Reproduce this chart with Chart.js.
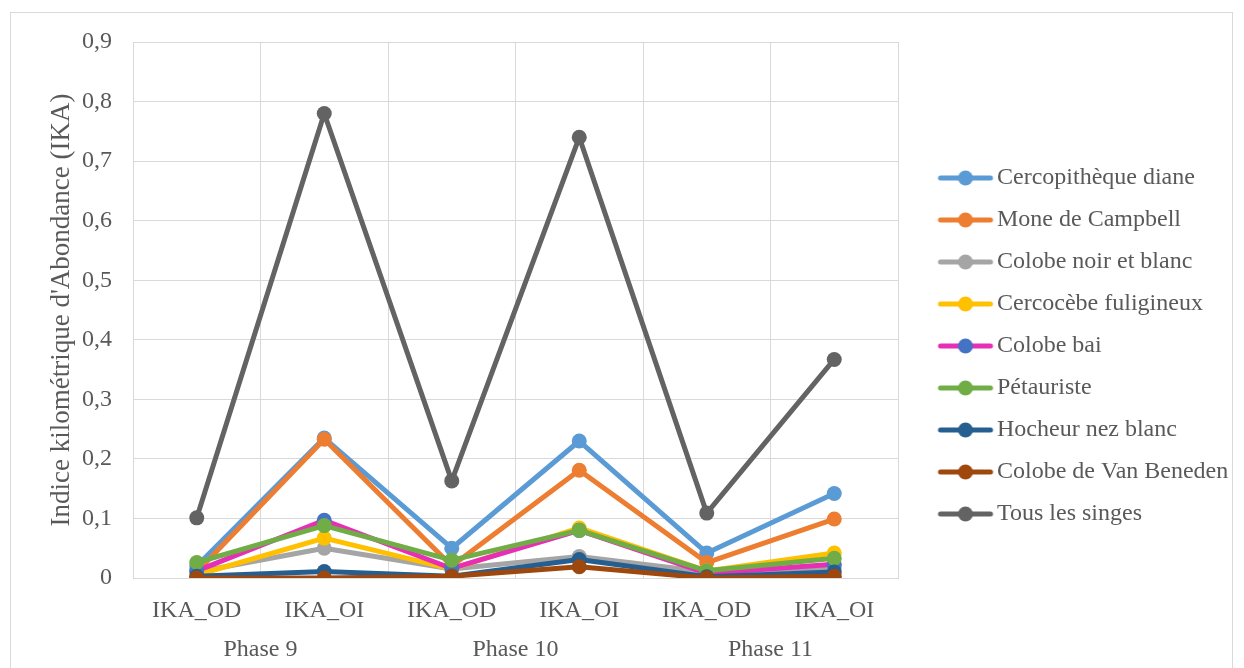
<!DOCTYPE html>
<html>
<head>
<meta charset="utf-8">
<script src="https://cdn.jsdelivr.net/npm/chart.js@4/dist/chart.umd.min.js"></script>
<style>
html,body{margin:0;padding:0;background:#fff;}
#wrap{width:1244px;height:668px;position:relative;}
</style>
</head>
<body>
<div id="wrap"><canvas id="c" width="1244" height="668"></canvas></div>
<script>
const categories = ['IKA_OD','IKA_OI','IKA_OD','IKA_OI','IKA_OD','IKA_OI'];
const phases = ['Phase 9','Phase 10','Phase 11'];
const yTicks = [0,0.1,0.2,0.3,0.4,0.5,0.6,0.7,0.8,0.9];

const seriesNames = ['Cercopithèque diane','Mone de Campbell','Colobe noir et blanc','Cercocèbe fuligineux','Colobe bai','Pétauriste','Hocheur nez blanc','Colobe de Van Beneden','Tous les singes'];
const cercopithequeDiane   = [0.020, 0.235, 0.050, 0.230, 0.042, 0.142];
const moneCampbell         = [0.010, 0.233, 0.020, 0.181, 0.026, 0.099];
const colobeNoirBlanc      = [0.010, 0.050, 0.015, 0.036, 0.010, 0.017];
const cercocebeFuligineux  = [0.005, 0.067, 0.015, 0.084, 0.012, 0.042];
const colobeBai            = [0.012, 0.097, 0.016, 0.080, 0.008, 0.023];
const petauriste           = [0.026, 0.088, 0.030, 0.080, 0.012, 0.033];
const hocheurNezBlanc      = [0.003, 0.011, 0.003, 0.031, 0.002, 0.010];
const colobeVanBeneden     = [0.000, 0.000, 0.003, 0.019, 0.000, 0.003];
const tousLesSinges        = [0.101, 0.780, 0.163, 0.740, 0.109, 0.367];

const seriesValues = [cercopithequeDiane, moneCampbell, colobeNoirBlanc, cercocebeFuligineux, colobeBai, petauriste, hocheurNezBlanc, colobeVanBeneden, tousLesSinges];
const lineColors  = ['#5B9BD5','#ED7D31','#A5A5A5','#FFC000','#E62FB5','#70AD47','#255E91','#9E480E','#636363'];
const pointColors = ['#5B9BD5','#ED7D31','#A5A5A5','#FFC000','#4472C4','#70AD47','#255E91','#9E480E','#636363'];

const FONT = 'Liberation Serif';
const TXT = '#595959';
const GRID = '#D9D9D9';

function legendIcon(line, point){
  const c = document.createElement('canvas');
  c.width = 110; c.height = 18;
  const g = c.getContext('2d');
  g.strokeStyle = line; g.lineWidth = 5; g.lineCap = 'round';
  g.beginPath(); g.moveTo(45, 9); g.lineTo(95, 9); g.stroke();
  g.fillStyle = point;
  g.beginPath(); g.arc(70, 9, 7.5, 0, Math.PI*2); g.fill();
  return c;
}
const icons = lineColors.map((c,i)=>legendIcon(c, pointColors[i]));

const datasets = seriesNames.map((name,i)=>({
  label: name,
  data: seriesValues[i],
  borderColor: lineColors[i],
  backgroundColor: pointColors[i],
  pointBackgroundColor: pointColors[i],
  pointBorderColor: pointColors[i],
  pointBorderWidth: 0,
  pointRadius: 7.5,
  pointHoverRadius: 7.5,
  borderWidth: 5,
  tension: 0,
  borderCapStyle: 'round',
  borderJoinStyle: 'round',
  fill: false,
  order: seriesNames.length - i
}));

const framePlugin = {
  id: 'frame',
  beforeDraw(chart){
    const ctx = chart.ctx;
    ctx.save();
    ctx.fillStyle = '#fff';
    ctx.fillRect(0,0,chart.width,chart.height);
    ctx.strokeStyle = GRID; ctx.lineWidth = 1;
    ctx.strokeRect(10.5, 12.5, 1222, 700);
    ctx.restore();
  }
};

new Chart(document.getElementById('c'), {
  type: 'line',
  data: { labels: categories, datasets },
  plugins: [framePlugin],
  options: {
    responsive: false,
    animation: false,
    devicePixelRatio: 1,
    layout: { padding: { left: 46, right: 12, top: 30, bottom: 6 } },
    plugins: {
      tooltip: { enabled: false },
      title: { display: true, text: '', fullSize: false, padding: 0, font: { size: 10, lineHeight: 1.2 } },
      legend: {
        position: 'right',
        align: 'center',
        maxWidth: 334,
        labels: {
          usePointStyle: true,
          pointStyleWidth: 69,
          padding: 18,
          color: TXT,
          font: { family: FONT, size: 24 },
          sort: (a,b) => a.datasetIndex - b.datasetIndex,
          generateLabels(chart){
            return chart.data.datasets.map((ds,i)=>({
              text: ds.label,
              fillStyle: pointColors[i],
              strokeStyle: lineColors[i],
              lineWidth: 0,
              pointStyle: icons[i],
              fontColor: TXT,
              hidden: false,
              datasetIndex: i
            }));
          }
        }
      }
    },
    scales: {
      x: {
        offset: true,
        grid: { offset: true, color: GRID, lineWidth: 1, drawTicks: false },
        border: { color: GRID },
        ticks: { color: TXT, font: { family: FONT, size: 24 }, padding: 18, maxRotation: 0, autoSkip: false },
        afterFit(scale){ scale.height = 50; }
      },
      x2: {
        type: 'category',
        labels: phases,
        position: 'bottom',
        offset: true,
        grid: { display: false, drawTicks: false },
        border: { display: false },
        ticks: { color: TXT, font: { family: FONT, size: 24 }, padding: 7, maxRotation: 0, autoSkip: false },
        afterFit(scale){ scale.height = 34; }
      },
      y: {
        min: 0, max: 0.9,
        afterBuildTicks(scale){ scale.ticks = yTicks.map(v=>({value:v})); },
        afterFit(scale){ scale.width = 87; },
        grid: { color: GRID, lineWidth: 1, drawTicks: false },
        border: { color: GRID },
        ticks: {
          color: TXT, font: { family: FONT, size: 24 }, padding: 21,
          callback: v => v === 0 ? '0' : Number(v).toFixed(1).replace('.', ',')
        },
        title: { display: true, text: "Indice kilométrique d'Abondance (IKA)", color: TXT, font: { family: FONT, size: 27 }, padding: { top: 0, bottom: 4 } }
      }
    }
  }
});
</script>
</body>
</html>
